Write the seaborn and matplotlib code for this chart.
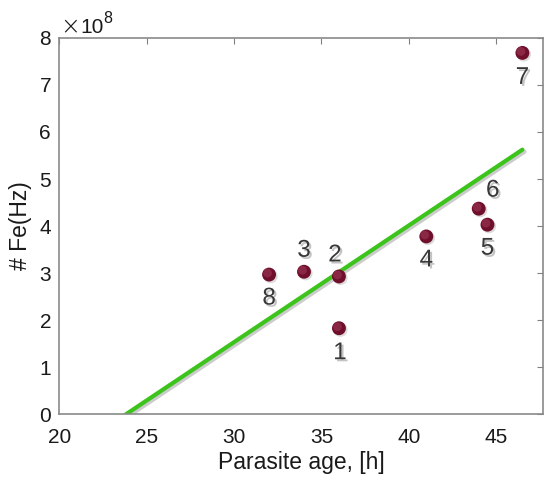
import numpy as np
import pandas as pd
import matplotlib
matplotlib.use("Agg")
import matplotlib.pyplot as plt
import matplotlib.patheffects as pe
import matplotlib.transforms as mtrans
import seaborn as sns

# data
labels = ["1", "2", "3", "4", "5", "6", "7", "8"]
age_h = [36.0, 36.0, 34.0, 41.0, 44.5, 44.0, 46.5, 32.0]
fe_e8 = [1.83, 2.93, 3.03, 3.78, 4.03, 4.37, 7.68, 2.97]

df = pd.DataFrame({"age": age_h, "fe": fe_e8, "label": labels})

# label offsets in pixels (dx, dy up positive)
offsets = {"1": (1, -25), "2": (-4, 21), "3": (0, 21), "4": (0, -24),
           "5": (0, -24), "6": (14, 18), "7": (0, -25), "8": (0, -24)}

sns.set_style("white")
plt.rcParams["font.family"] = ["Liberation Sans", "DejaVu Sans"]

fig = plt.figure(figsize=(5.45, 4.79), dpi=100)
ax = fig.add_axes([0.109, 0.135, 0.888, 0.786])

# least squares fit, drawn from y=0 up to the oldest point
slope, icpt = np.polyfit(df["age"], df["fe"], 1)
x0 = -icpt / slope
x1 = df["age"].max()
fit = pd.DataFrame({"age": [x0, x1], "fe": [slope * x0 + icpt, slope * x1 + icpt]})
sns.lineplot(data=fit, x="age", y="fe", ax=ax, color="#3cc41c", lw=3.0,
             path_effects=[pe.SimpleLineShadow(offset=(1.5, -1.5), alpha=0.2), pe.Normal()])

# soft shadow under the dots, then the dots, then a faint highlight
shadow_tr = mtrans.offset_copy(ax.transData, fig=fig, x=1.5, y=-1.5, units="dots")
sns.scatterplot(data=df, x="age", y="fe", ax=ax, s=105, color="#999999", alpha=0.35,
                edgecolor="none", zorder=2, transform=shadow_tr)
sns.scatterplot(data=df, x="age", y="fe", ax=ax, s=100, color="#6f0f2b",
                edgecolor="none", zorder=3)
hi_tr = mtrans.offset_copy(ax.transData, fig=fig, x=-1.5, y=1.5, units="dots")
sns.scatterplot(data=df, x="age", y="fe", ax=ax, s=40, color="#a3405f", alpha=0.5,
                edgecolor="none", zorder=4, transform=hi_tr)

for _, r in df.iterrows():
    dx, dy = offsets[r["label"]]
    ax.annotate(r["label"], (r["age"], r["fe"]), xytext=(dx, dy), textcoords="offset pixels",
                ha="center", va="center", fontsize=17.5, color="#383838",
                path_effects=[pe.withSimplePatchShadow(offset=(1.5, -1.5), alpha=0.25)])

ax.set_xlim(20, 47.7)
ax.set_ylim(0, 8)
ax.set_xticks([20, 25, 30, 35, 40, 45])
ax.set_yticks(range(9))
ax.tick_params(direction="in", length=4, width=0.8, color="#808080", labelsize=15,
               labelcolor="#1a1a1a", top=True, right=True)
ax.tick_params(axis="x", pad=10)
ax.tick_params(axis="y", pad=6)
for s in ax.spines.values():
    s.set_color("#8a8a8a")
    s.set_linewidth(1.2)

ax.set_xlabel("Parasite age, [h]", fontsize=16.5, color="#1a1a1a", labelpad=3)
ax.set_ylabel("# Fe(Hz)", fontsize=16.5, color="#1a1a1a", labelpad=5)

# exponent note above the y axis
fig.text(0.110, 0.930, "\u00d7", fontsize=17, color="#1a1a1a", family="DejaVu Sans",
         fontweight="light")
fig.text(0.147, 0.931, "10", fontsize=15, color="#1a1a1a")
fig.text(0.190, 0.952, "8", fontsize=11.5, color="#1a1a1a")

fig.savefig("out.png", dpi=100)
